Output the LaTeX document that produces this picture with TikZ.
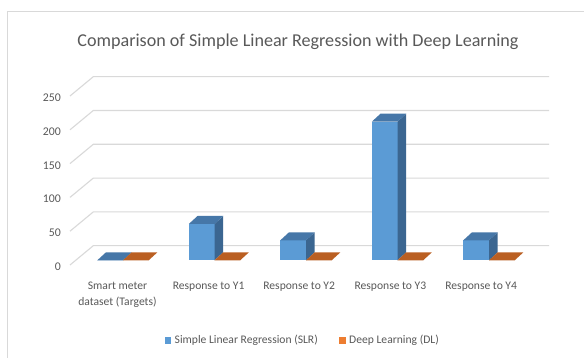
\documentclass[tikz,border=0pt]{standalone}
\usepackage{fontspec}
\setmainfont{Carlito}
\definecolor{txtgray}{HTML}{595959}
\definecolor{gridgray}{HTML}{D9D9D9}
\definecolor{slrfront}{HTML}{5B9BD5}
\definecolor{slrtop}{HTML}{4677A8}
\definecolor{slrside}{HTML}{3B6691}
\definecolor{dltop}{HTML}{BA5F22}
\definecolor{dlkey}{HTML}{ED7D31}
\begin{document}
\begin{tikzpicture}[x=1pt,y=-1pt,
  gridline/.style={draw=gridgray,line width=1.1pt},
  framebox/.style={draw=gridgray,line width=0.8pt},
  ticklabel/.style={text=txtgray,anchor=east,inner sep=0pt,font=\fontsize{11.8}{14}\selectfont},
  catlabel/.style={text=txtgray,align=center,inner sep=0pt,font=\fontsize{11.6}{15.4}\selectfont},
  keylabel/.style={text=txtgray,anchor=west,inner sep=0pt,font=\fontsize{11.6}{14}\selectfont},
  titlelabel/.style={text=txtgray,inner sep=0pt,font=\fontsize{18.1}{22}\selectfont}]
\useasboundingbox (0,0) rectangle (584,358);
\fill[white] (0,0) rectangle (584,358);
% chart frame
\draw[framebox] (7.3,358) -- (7.3,11) -- (584,11);
% title
\node[titlelabel] (title) at (298,41.5) {Comparison of Simple Linear Regression with Deep Learning};
% gridlines with their side-wall diagonals, and value labels
\foreach \k/\v in {0/0,1/50,2/100,3/150,4/200,5/250} {
  \pgfmathsetmacro\yb{245.7-33.8*\k}
  \draw[gridline] (70,\yb+19.3) -- (93.3,\yb) -- (549,\yb);
  \node[ticklabel] (tick\k) at (61,\yb+21) {\v};
}
% bars: SLR as 3D columns, DL as flat slabs on the floor
\def\bw{25.7}
\def\dx{8.7}
\def\dy{8}
\def\base{260.3}
\foreach \i/\h in {0/0,1/36.3,2/20,3/138.6,4/20} {
  \pgfmathsetmacro\xa{97.3+91.5*\i}
  \pgfmathsetmacro\xb{\xa+\bw}
  \pgfmathsetmacro\xc{\xb+\bw}
  \pgfmathsetmacro\yt{\base-\h}
  \fill[slrfront] (\xa,\base) rectangle (\xb,\yt);
  \fill[slrside] (\xb,\base) -- (\xb+\dx,\base-\dy) -- (\xb+\dx,\yt-\dy) -- (\xb,\yt) -- cycle;
  \fill[slrtop] (\xa,\yt) -- (\xb,\yt) -- (\xb+\dx,\yt-\dy) -- (\xa+\dx,\yt-\dy) -- cycle;
  \fill[dltop] (\xb,\base) -- (\xc,\base) -- (\xc+\dx,\base-\dy) -- (\xb+\dx,\base-\dy) -- cycle;
}
% category labels
\node[catlabel,anchor=north] (cat0) at (117.5,282.2) {Smart meter\\dataset (Targets)};
\node[catlabel,anchor=north] (cat1) at (208.6,282.2) {Response to Y1};
\node[catlabel,anchor=north] (cat2) at (299.2,282.2) {Response to Y2};
\node[catlabel,anchor=north] (cat3) at (390.4,282.2) {Response to Y3};
\node[catlabel,anchor=north] (cat4) at (481.2,282.2) {Response to Y4};
% legend
\fill[slrfront] (165,336.7) rectangle (171.3,344);
\node[keylabel] (keyslr) at (174.5,340.3) {Simple Linear Regression (SLR)};
\fill[dlkey] (339.3,336.7) rectangle (345.6,344);
\node[keylabel] (keydl) at (349,340.3) {Deep Learning (DL)};
\end{tikzpicture}
\end{document}
